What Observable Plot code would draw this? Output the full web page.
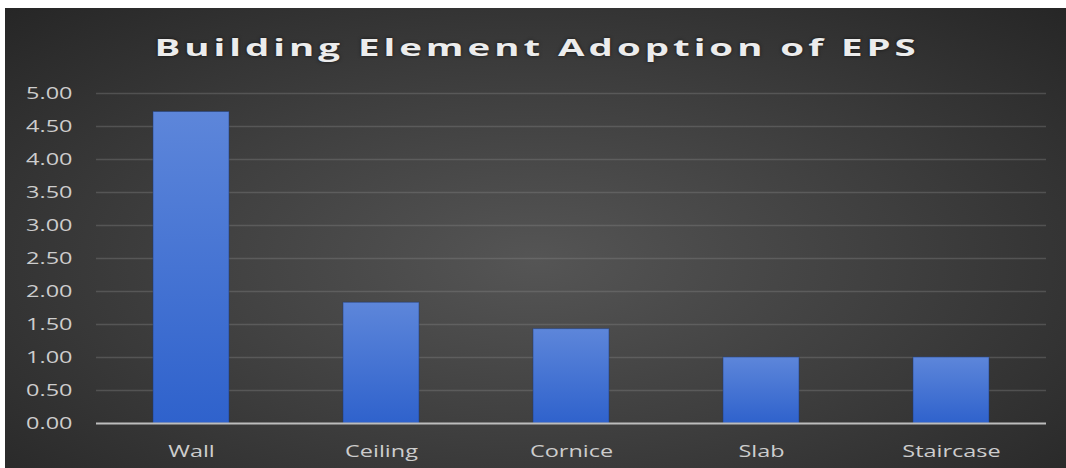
<!DOCTYPE html>
<html>
<head>
<meta charset="utf-8">
<script src="https://cdn.jsdelivr.net/npm/d3@7"></script>
<script src="https://cdn.jsdelivr.net/npm/@observablehq/plot@0.6"></script>
<style>
  html, body { margin: 0; padding: 0; background: #ffffff; width: 1066px; height: 468px; overflow: hidden; }
  #card {
    position: absolute; left: 5px; top: 8px; width: 1061px; height: 460px;
    background: radial-gradient(ellipse farthest-corner at 50% 55%, #555555 0%, #3e3e3e 50%, #262626 100%);
  }
  #title {
    position: absolute; left: 0; top: 35px; width: 1066px; text-align: center;
    font-family: "Open Sans", sans-serif; font-weight: 700; font-size: 24px; line-height: 24px;
    color: #ececec; text-shadow: 0 0 3px rgba(0,0,0,0.6);
  }
  #title span { display: inline-block; transform: scaleX(1.6); transform-origin: 50% 50%; letter-spacing: 2.5px; margin-left: 8px; }
  #chart { position: absolute; left: 0; top: 70px; }
  #chart svg { background: transparent; }
</style>
</head>
<body>
<div id="card"></div>
<div id="title"><span>Building Element Adoption of EPS</span></div>
<div id="chart"></div>
<script>
const categories = ["Wall", "Ceiling", "Cornice", "Slab", "Staircase"];
const values = [4.72, 1.83, 1.43, 1.00, 1.00];
const yTicks = [0, 0.5, 1, 1.5, 2, 2.5, 3, 3.5, 4, 4.5, 5];

const data = categories.map((c, i) => ({category: c, value: values[i]}));

const plot = Plot.plot({
  width: 1066,
  height: 398,
  marginLeft: 96,
  marginRight: 20,
  marginTop: 23,
  marginBottom: 45,
  style: {background: "transparent", fontFamily: "'Open Sans', sans-serif", overflow: "visible"},
  x: {domain: categories, paddingInner: 0.6, paddingOuter: 0.3, label: null},
  y: {domain: [0, 5], label: null},
  marks: [
    Plot.gridY(yTicks.filter(d => d > 0), {stroke: "#8a8a8a", strokeOpacity: 0.35, strokeWidth: 1.5}),
    Plot.barY(data, {x: "category", y: "value", fill: "url(#barGrad)", stroke: "#1d3a75", strokeOpacity: 0.5, strokeWidth: 1}),
    Plot.ruleY([0], {stroke: "#bdbdbd", strokeWidth: 2}),
    Plot.axisY(yTicks, {tickFormat: d3.format(".2f"), tickSize: 0, tickPadding: 24, fontSize: 17, fill: "#cdcdcd", label: null}),
    Plot.axisX({tickSize: 0, tickPadding: 21, fontSize: 17, fill: "#cdcdcd", label: null})
  ]
});

const svg = d3.select(plot);
const defs = svg.insert("defs", ":first-child");
const grad = defs.append("linearGradient").attr("id", "barGrad").attr("x1", 0).attr("y1", 0).attr("x2", 0).attr("y2", 1);
grad.append("stop").attr("offset", "0%").attr("stop-color", "#5d86da");
grad.append("stop").attr("offset", "100%").attr("stop-color", "#2f62cc");

// horizontally stretch the tick label text like the reference
svg.selectAll('g[aria-label="y-axis tick label"] text, g[aria-label="x-axis tick label"] text').each(function() {
  const t = this.getAttribute("transform");
  if (t) {
    this.setAttribute("transform", t + " scale(1.38,1)");
  } else {
    const x = +(this.getAttribute("x") || 0);
    this.removeAttribute("x");
    this.setAttribute("transform", `translate(${x},0) scale(1.38,1)`);
  }
});

document.getElementById("chart").appendChild(plot);
</script>
</body>
</html>
